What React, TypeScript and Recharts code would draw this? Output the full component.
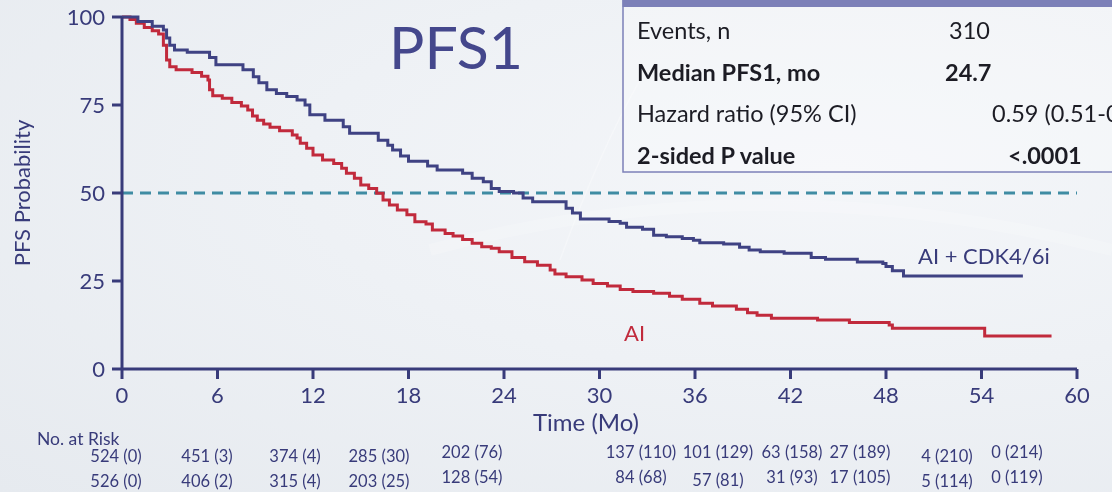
import React from 'react';
import { LineChart, Line, XAxis, YAxis, ReferenceLine } from 'recharts';

// Time axis (months) and probability axis ticks
const monthTicks = [0, 6, 12, 18, 24, 30, 36, 42, 48, 54, 60];
const probTicks = [0, 25, 50, 75, 100];

// Kaplan-Meier steps: [month, PFS %], AI + CDK4/6i arm
const comboSteps: [number, number][] = [
  [0, 100], [1.0, 98.7], [1.9, 97.4], [2.6, 96.3], [2.8, 94], [3.0, 92], [3.3, 90.6],
  [4.1, 90], [5.5, 88.5], [5.9, 86.4], [7.6, 85], [8.25, 83], [8.6, 81.3], [9.1, 79.3],
  [9.7, 78.3], [10.35, 77.4], [11.0, 76.4], [11.5, 75], [11.8, 72.2], [12.75, 70.7],
  [13.9, 68.8], [14.3, 67], [16.1, 65], [16.7, 63.6], [17.0, 62.2], [17.5, 60.5],
  [18.0, 59], [19.2, 57.7], [19.8, 56.5], [21.4, 55.6], [22.0, 54.2], [22.7, 53.2],
  [23.2, 51.3], [23.7, 50.4], [24.6, 50], [25.2, 48.6], [25.8, 47.5], [27.9, 45.7],
  [28.3, 44.3], [28.8, 42.6], [30.6, 41.9], [31.3, 41.4], [31.7, 40.3], [32.7, 39.7],
  [33.4, 38], [34.2, 37.6], [35.2, 37.1], [35.9, 36.6], [36.3, 35.9], [37.8, 35.5],
  [38.8, 34.6], [39.4, 33.8], [40.1, 33.3], [41.6, 32.9], [43.3, 31.7], [44.2, 31.2],
  [46.2, 30.4], [47.8, 30], [48.0, 29.1], [48.4, 27.9], [49.1, 26.4], [56.6, 26.4],
];

// Kaplan-Meier steps: [month, PFS %], AI arm
const aiSteps: [number, number][] = [
  [0, 100], [0.5, 99.3], [0.9, 98.2], [1.4, 97], [1.9, 96.1], [2.3, 95.2], [2.6, 92],
  [2.8, 87.8], [3.0, 85.9], [3.4, 85], [4.4, 84.2], [5.0, 83.2], [5.4, 82.1], [5.5, 79.3],
  [5.7, 77.6], [6.3, 76.9], [6.9, 75.7], [7.5, 74.7], [7.9, 73.6], [8.2, 71.9], [8.5, 70.7],
  [8.9, 69.6], [9.3, 68.7], [9.9, 67.7], [10.7, 66.5], [11.0, 65.6], [11.2, 64.1],
  [11.6, 62.7], [12.0, 60.8], [12.6, 59.4], [13.3, 58.4], [13.8, 57], [14.1, 55.6],
  [14.6, 54.2], [15.0, 52.3], [15.5, 51.3], [16.0, 49.9], [16.4, 48], [16.8, 46.6],
  [17.3, 45.2], [17.9, 43.8], [18.4, 41.8], [19.1, 41.2], [19.5, 39.5], [20.3, 38.5],
  [20.8, 37.8], [21.4, 36.8], [22.0, 35.7], [22.6, 34.7], [23.2, 34.3], [23.7, 33.3],
  [24.5, 31.7], [25.3, 30.5], [26.1, 29.5], [26.9, 28.1], [27.2, 27], [27.9, 26.2],
  [28.9, 25.3], [29.6, 24.3], [30.5, 23.6], [31.3, 22.6], [32.1, 22], [33.4, 21.5],
  [34.4, 20.7], [35.2, 19.8], [36.3, 18.7], [37.1, 17.9], [38.6, 17], [39.3, 16],
  [39.9, 15.3], [40.8, 14.4], [43.7, 13.9], [45.7, 13.2], [48.2, 12.5], [48.4, 11.6],
  [54.2, 9.4], [58.4, 9.4],
];

// Numbers at risk (censored) per arm
const riskCombo = ['524 (0)', '451 (3)', '374 (4)', '285 (30)', '202 (76)', '137 (110)', '101 (129)', '63 (158)', '27 (189)', '4 (210)', '0 (214)'];
const riskAi = ['526 (0)', '406 (2)', '315 (4)', '203 (25)', '128 (54)', '84 (68)', '57 (81)', '31 (93)', '17 (105)', '5 (114)', '0 (119)'];

// Summary table rows
const statLabels = ['Events, n', 'Median PFS1, mo', 'Hazard ratio (95% CI)', '2-sided P value'];
const statValues = ['310', '24.7', '0.59 (0.51-0.69)', '<.0001'];

const comboData = comboSteps.map(([t, p]) => ({ t, p }));
const aiData = aiSteps.map(([t, p]) => ({ t, p }));

const FONT = 'Lato, "Open Sans", sans-serif';
const NAVY = '#383b7a';
const BLUE_LINE = '#3f4283';
const RED = '#c12a3c';
const TEAL = '#3f8ca3';
const FRAME = '#7c80b8';

// layout of the risk table columns (centre x) and rows
const riskColX = [116, 207, 295, 379, 472, 641, 718, 792, 860, 947, 1017];
const riskRowY1 = [456, 456, 456, 456, 452, 452, 452, 452, 452, 456, 452];
const riskRowY2 = [481, 481, 481, 481, 477, 477, 480, 477, 477, 481, 477];
const statRowY = [30, 72, 113, 155];
const statValX = [949, 945, 992, 1008];
const statBold = [false, true, false, true];

export default function App() {
  return (
    <div
      style={{
        position: 'fixed',
        left: 0,
        top: 0,
        width: 1112,
        height: 492,
        overflow: 'hidden',
        background:
          'radial-gradient(ellipse at 75% 35%, #f4f6f9 0%, #eef1f5 45%, #e6eaef 100%)',
        fontFamily: FONT,
      }}
    >
      <svg width={1112} height={492} style={{ position: 'absolute', left: 0, top: 0 }}>
        <path d="M 430 250 Q 760 160 1112 250" stroke="#ffffff" strokeOpacity={0.18} strokeWidth={12} fill="none" />
        <path d="M 560 260 Q 600 150 640 80" stroke="#ffffff" strokeOpacity={0.3} strokeWidth={1.5} fill="none" />
        {/* summary table */}
        <rect x={623} y={-10} width={520} height={182} fill="#ffffff" fillOpacity={0.25} stroke={FRAME} strokeWidth={1.5} />
        <rect x={622.5} y={-10} width={520} height={17} fill={FRAME} />
        {statLabels.map((s, i) => (
          <text key={s} x={637} y={statRowY[i]} dominantBaseline="central" fontSize={23.5}
            fontWeight={statBold[i] ? 700 : 400} fill="#1c1c24" fontFamily={FONT}>{s}</text>
        ))}
        {statValues.map((s, i) => (
          <text key={s} x={statValX[i]} y={statRowY[i]} dominantBaseline="central" fontSize={23.5}
            fontWeight={statBold[i] ? 700 : 400} fill="#1c1c24" fontFamily={FONT}>{s}</text>
        ))}
      </svg>
      <div style={{ position: 'absolute', left: 0, top: 0 }}>
        <LineChart width={1112} height={492} margin={{ top: 17, right: 35, bottom: 93, left: 0 }}>
          <XAxis
            type="number"
            dataKey="t"
            domain={[0, 60]}
            ticks={monthTicks}
            allowDataOverflow
            height={30}
            tickSize={10}
            tickMargin={8}
            axisLine={{ stroke: NAVY, strokeWidth: 3 }}
            tickLine={{ stroke: NAVY, strokeWidth: 3 }}
            tick={{ fill: NAVY, fontSize: 22, fontFamily: FONT }}
          />
          <YAxis
            type="number"
            domain={[0, 100]}
            ticks={probTicks}
            width={122}
            tickSize={10}
            tickMargin={7}
            axisLine={{ stroke: NAVY, strokeWidth: 3 }}
            tickLine={{ stroke: NAVY, strokeWidth: 3 }}
            tick={{ fill: NAVY, fontSize: 22, fontFamily: FONT }}
          />
          <ReferenceLine y={50} stroke={TEAL} strokeWidth={3} strokeDasharray="11 7" />
          <Line data={aiData} dataKey="p" type="stepAfter" stroke={RED} strokeWidth={3}
            dot={false} activeDot={false} isAnimationActive={false} />
          <Line data={comboData} dataKey="p" type="stepAfter" stroke={BLUE_LINE} strokeWidth={3}
            dot={false} activeDot={false} isAnimationActive={false} />
        </LineChart>
      </div>
      <svg width={1112} height={492} style={{ position: 'absolute', left: 0, top: 0, pointerEvents: 'none' }}>
        <text x={389} y={46} dominantBaseline="central" fontSize={59} fill="#44478c" fontFamily={FONT}>PFS1</text>
        <text x={918} y={255} dominantBaseline="central" fontSize={22} fill={NAVY} fontFamily={FONT}>AI + CDK4/6i</text>
        <text x={624} y={332} dominantBaseline="central" fontSize={22} fill={RED} fontFamily={FONT}>AI</text>
        <text x={586} y={421} dominantBaseline="central" textAnchor="middle" fontSize={24} fill={NAVY} fontFamily={FONT}>Time (Mo)</text>
        <text x={21} y={193} dominantBaseline="central" textAnchor="middle" fontSize={22} fill={NAVY}
          fontFamily={FONT} transform="rotate(-90 21 193)">PFS Probability</text>
        <text x={37} y={438} dominantBaseline="central" fontSize={17.5} fill={NAVY} fontFamily={FONT}>No. at Risk</text>
        {riskCombo.map((s, i) => (
          <text key={'c' + i} x={riskColX[i]} y={riskRowY1[i]} dominantBaseline="central" textAnchor="middle"
            fontSize={16.5} fill={NAVY} fontFamily={FONT}>{s}</text>
        ))}
        {riskAi.map((s, i) => (
          <text key={'a' + i} x={riskColX[i]} y={riskRowY2[i]} dominantBaseline="central" textAnchor="middle"
            fontSize={16.5} fill={NAVY} fontFamily={FONT}>{s}</text>
        ))}
      </svg>
    </div>
  );
}
